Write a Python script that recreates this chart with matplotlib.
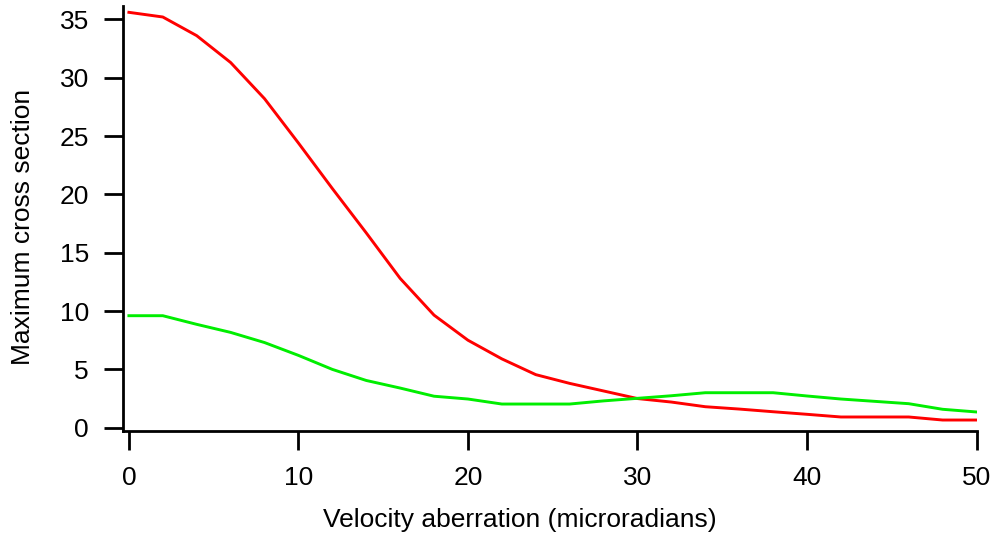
import matplotlib
matplotlib.use("Agg")
import matplotlib.pyplot as plt

# Velocity aberration (microradians)
aberration = [0, 2, 4, 6, 8, 10, 12, 14, 16, 18, 20, 22, 24, 26, 28, 30,
              32, 34, 36, 38, 40, 42, 44, 46, 48, 50]

# Maximum cross section for the two cases
red_series = [35.6, 35.2, 33.6, 31.3, 28.2, 24.4, 20.5, 16.7, 12.8, 9.65,
              7.5, 5.9, 4.55, 3.8, 3.15, 2.5, 2.2, 1.8, 1.6, 1.37, 1.15,
              0.92, 0.92, 0.92, 0.66, 0.66]
green_series = [9.6, 9.6, 8.86, 8.17, 7.3, 6.2, 5.0, 4.05, 3.4, 2.7, 2.46,
                2.03, 2.03, 2.03, 2.3, 2.52, 2.74, 3.0, 3.0, 3.0, 2.72, 2.46,
                2.26, 2.06, 1.58, 1.35]

x_ticks = [0, 10, 20, 30, 40, 50]
y_ticks = [0, 5, 10, 15, 20, 25, 30, 35]

plt.rcParams["font.family"] = ["Liberation Sans", "DejaVu Sans"]

fig = plt.figure(figsize=(9.9, 5.38), dpi=100)
ax = fig.add_axes([0.1242, 0.1989, 0.9869 - 0.1242, 0.9888 - 0.1989])

ax.plot(aberration, red_series, color="#ff0000", lw=2.1, solid_joinstyle="round")
ax.plot(aberration, green_series, color="#00ee00", lw=2.1, solid_joinstyle="round")

ax.set_xlim(-0.35, 50.03)
ax.set_ylim(-0.28, 36.14)
ax.set_xticks(x_ticks)
ax.set_yticks(y_ticks)

for side in ("top", "right"):
    ax.spines[side].set_visible(False)
for side in ("left", "bottom"):
    ax.spines[side].set_linewidth(2.0)

ax.tick_params(axis="both", direction="out", length=13.5, width=2.0,
               labelsize=19, color="black")
ax.tick_params(axis="y", pad=11)
ax.tick_params(axis="x", pad=12)

ax.set_xlabel("Velocity aberration (microradians)", fontsize=19, labelpad=12.5)
ax.set_ylabel("Maximum cross section", fontsize=19, labelpad=18)
ax.xaxis.label.set_x(0.465)
ax.yaxis.label.set_y(0.48)

fig.savefig("out.png", dpi=100)
